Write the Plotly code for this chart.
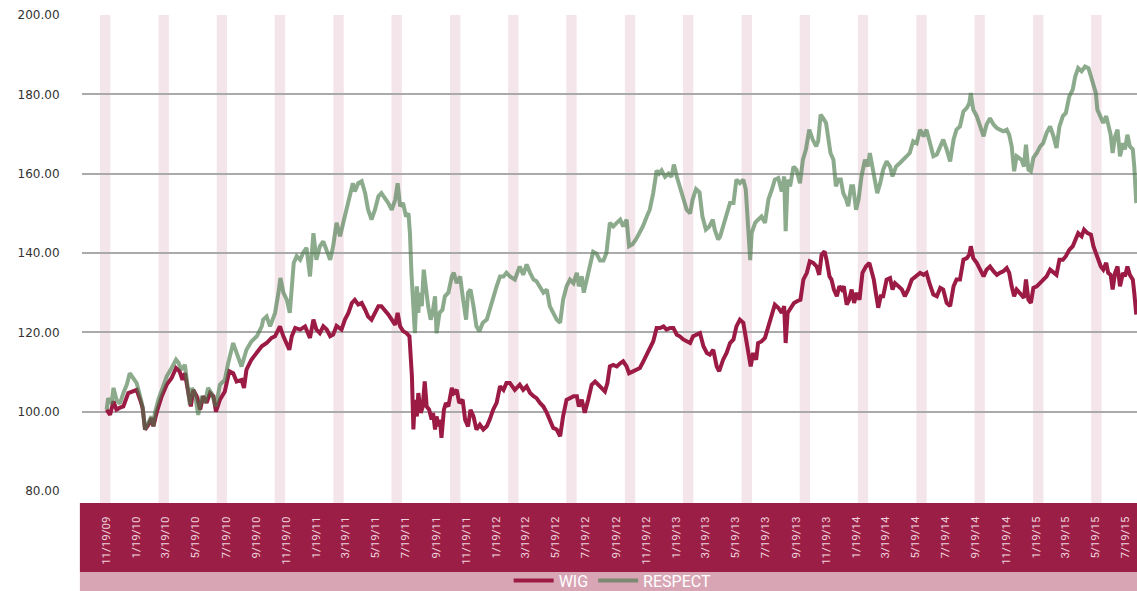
import pandas as pd
import plotly.graph_objects as go

start_date = "2009-11-19"

wig_days = [0, 7, 14, 20, 27, 34, 44, 54, 61, 68, 73, 78, 85, 91, 95, 102, 112, 122, 132, 141, 148, 154, 159, 166, 171, 176, 183, 190, 196, 203, 210, 217, 222, 230, 240, 249, 257, 264, 274, 279, 284, 294, 305, 315, 325, 335, 342, 352, 359, 366, 371, 376, 383, 393, 403,
            413, 420, 426, 433, 440, 447, 454, 460, 467, 477, 484, 491, 498, 504, 511, 518, 525, 531, 538, 545, 552, 558, 565, 572, 579, 586, 591, 596, 602, 609, 615, 617, 620, 623, 626, 630, 633, 638, 642, 646, 650, 655, 660, 663, 667, 670, 674, 677, 680, 685, 689, 694, 701, 705, 711, 716, 723, 728, 734, 739, 745, 751, 758, 765, 772, 778, 785, 792, 799, 806, 812,
            819, 829, 839, 846, 853, 860, 867, 873, 880, 887, 894, 900, 907, 914, 921, 927, 934, 941, 948, 955, 959, 965, 971, 978, 985, 992, 998, 1005, 1012, 1017, 1022, 1029, 1036, 1043, 1049, 1056, 1061, 1068, 1075, 1083, 1090, 1097, 1103, 1110, 1117, 1124, 1131, 1137, 1144, 1151, 1158, 1164, 1171, 1178, 1185, 1191, 1198, 1205, 1212, 1219, 1225, 1232, 1239, 1244,
            1252, 1259, 1266, 1273, 1279, 1286, 1293, 1298, 1303, 1308, 1313, 1319, 1323, 1330, 1337, 1344, 1351, 1357, 1364, 1371, 1376, 1379, 1383, 1389, 1396, 1403, 1409, 1415, 1422, 1428, 1435, 1442, 1447, 1452, 1458, 1462, 1468, 1472, 1477, 1483, 1488, 1493, 1497, 1503, 1508, 1513, 1518, 1523, 1529, 1535, 1542, 1549, 1554, 1558, 1562, 1567, 1572, 1577, 1584, 1591, 1596, 1601, 1608, 1615, 1621, 1628, 1635, 1642, 1648,
            1652, 1659, 1665, 1672, 1679, 1686, 1693, 1699, 1706, 1713, 1720, 1726, 1733, 1740, 1747, 1752, 1755, 1760, 1767, 1774, 1781, 1787, 1794, 1801, 1808, 1814, 1821, 1828, 1833, 1838, 1843, 1848, 1854, 1858, 1863, 1867, 1872, 1877, 1882, 1889, 1896, 1902, 1909, 1916, 1923, 1929, 1935, 1942, 1948, 1955, 1962, 1967, 1973, 1980, 1985, 1992, 1999, 2004, 2010, 2014, 2019, 2024, 2030, 2034, 2039, 2043, 2048, 2053, 2058, 2064, 2068, 2073, 2078, 2084, 2087, 2091]

wig_values = [100.5, 99.2, 102.6, 100.5, 101, 101.3, 104.7, 105.1, 105.5, 103, 101, 95.5, 96.7, 98.4, 96.3, 100, 103.9, 106.8, 108.5, 111, 110.2, 108, 109.7, 104.7, 101.3, 105.5, 103.9, 100.5, 103.9, 102.2, 104.7, 103.9, 100, 103, 105.1, 110.2, 109.7, 107.6, 108, 106, 110.6, 113.1, 114.8, 116.5, 117.3, 118.6, 119, 121.5, 119, 117.3, 115.6, 119, 121.1, 120.7, 121.5,
              118.6, 123.2, 120.7, 119.8, 121.5, 120.7, 119, 119.4, 121.6, 120.7, 123.2, 124.9, 127.4, 128.2, 127, 127.4, 125.7, 124, 123.2, 124.9, 126.6, 126.6, 125.7, 124.5, 123.2, 121.9, 124.9, 121.5, 120.3, 119.8, 119, 114.8, 108.9, 95.5, 103, 98.8, 104.7, 99.7, 101.3, 107.6, 101.3, 100.5, 98, 99.7, 95.5, 98.8, 96.3, 98, 93.4, 100.5, 102.2, 101.3, 106, 104.7, 105.5, 102.2, 103, 98, 96.3, 100.5, 98.8, 95.5, 96.7, 95.5, 96.3, 98, 100.5, 102.2, 106.4, 105.5, 107.2,
              107.2, 105.5, 106.8, 105.5, 106.4, 104.7, 103.9, 103.4, 102.2, 101.3, 99.7, 98, 95.9, 95.5, 93.8, 98.8, 103, 103.4, 103.9, 103.9, 101.3, 103, 99.7, 103, 106.8, 107.6, 106.8, 106, 105.1, 107.2, 111.4, 111.8, 111.4, 112.2, 112.7, 111.4, 109.7, 110.1, 110.6, 111, 112.7, 114.4, 115.6, 117.7, 121.1, 121.1, 121.5, 120.7, 121.1, 121.1, 119.4, 119, 118.2, 117.7, 117.3, 119, 119.4, 119.8, 116.5, 114.8, 114.4, 115.6, 111.4, 110.2,
              113.1, 114.8, 117.3, 118.2, 121.5, 123.2, 122.4, 119, 114.8, 111.4, 114.8, 113.1, 117.3, 117.7, 118.6, 121.5, 124.9, 127, 126.2, 124.9, 126.6, 117.3, 124.9, 126.2, 127.4, 127.9, 128.2, 133.3, 135, 137.9, 137.5, 136.6, 134.5, 139.6, 140.4, 138.3, 134.1, 133.3, 130.8, 129.1, 131.6, 130.8, 131.6, 127, 128.2, 130.8, 127.4, 130, 128.2, 135, 136.6, 137.5, 135, 133.3, 130, 126.2, 129.1, 129.1, 133.3, 133.7, 130.8, 132.4, 131.6, 130.8, 129.1, 130.8, 133.3, 134.1, 134.5,
              135, 134.5, 135, 132, 129.5, 129.1, 131.2, 130.8, 127.4, 126.6, 131.6, 133.3, 133.3, 138.3, 138.7, 139.6, 141.7, 138.7, 137.5, 135.8, 134.1, 135.8, 136.6, 135.4, 134.5, 135, 135.4, 136.2, 135, 131.6, 129.1, 130.8, 129.9, 129.5, 128.7, 133.3, 128.2, 127.4, 131.2, 131.6, 132.4, 133.3, 134.1, 135.8, 135, 134.5, 138.3, 138.3, 139.2, 140.8, 141.7, 143.4, 145, 144.2, 145.9, 145, 144.6, 141.7, 140, 138.3, 136.6, 135.8, 137.5, 135, 134.5, 130.8, 135, 136.6, 131.6, 135, 134.1, 136.6, 134.5, 133.3, 129.9, 124.5]

respect_days = [0, 3, 10, 14, 20, 27, 34, 41, 47, 54, 61, 68, 73, 78, 85, 91, 95, 98, 105, 112, 122, 132, 141, 146, 152, 159, 166, 169, 173, 179, 186, 193, 200, 206, 213, 222, 230, 240, 247, 257, 264, 274, 284, 294, 305, 315, 318, 325, 332, 342, 349, 353, 359, 366, 372, 376, 380, 386, 393, 399, 406,
                413, 420, 426, 433, 440, 447, 454, 460, 467, 474, 481, 487, 494, 500, 504, 511, 518, 525, 531, 538, 545, 552, 558, 565, 572, 579, 586, 591, 596, 602, 608, 613, 616, 619, 623, 626, 630, 633, 636, 640, 644, 649, 653, 658, 662, 667, 670, 676, 682, 687, 694, 701, 705, 711, 718, 724, 730, 734, 739, 745, 751, 757, 764, 772, 778, 785, 792, 799, 806, 812,
                819, 829, 839, 846, 853, 860, 867, 873, 880, 887, 894, 900, 907, 914, 921, 927, 934, 941, 948, 955, 959, 965, 969, 975, 982, 988, 995, 1002, 1009, 1015, 1022, 1029, 1036, 1043, 1049, 1056, 1061, 1068, 1075, 1082, 1089, 1097, 1103, 1110, 1117, 1122, 1127, 1134, 1141, 1147, 1152, 1158, 1164, 1171, 1178, 1185, 1190, 1197, 1204, 1210, 1217, 1224, 1231, 1235, 1242,
                1246, 1252, 1259, 1266, 1273, 1279, 1286, 1293, 1298, 1303, 1307, 1310, 1317, 1323, 1330, 1337, 1344, 1351, 1357, 1364, 1371, 1376, 1379, 1383, 1388, 1395, 1401, 1408, 1414, 1420, 1427, 1434, 1441, 1445, 1450, 1455, 1461, 1466, 1470, 1476, 1481, 1486, 1491, 1496, 1502, 1506, 1512, 1516, 1522, 1527, 1533, 1540, 1546, 1550, 1556, 1560, 1565, 1571, 1577, 1584, 1591, 1596, 1603, 1611, 1618, 1625, 1631, 1638, 1645,
                1652, 1659, 1665, 1672, 1679, 1686, 1693, 1699, 1706, 1713, 1720, 1726, 1733, 1740, 1747, 1752, 1755, 1760, 1767, 1774, 1781, 1787, 1794, 1801, 1808, 1814, 1821, 1828, 1833, 1838, 1843, 1848, 1854, 1858, 1863, 1867, 1872, 1877, 1882, 1889, 1896, 1902, 1909, 1916, 1923, 1929, 1935, 1942, 1948, 1955, 1962, 1967, 1973, 1980, 1987, 1994, 1999, 2004, 2009, 2012, 2018, 2024, 2030, 2034, 2039, 2043, 2048, 2053, 2058, 2064, 2068, 2073, 2078, 2084, 2087, 2091]

respect_values = [100.5, 103.4, 102, 106, 103, 102, 104.7, 106.8, 109.7, 108.5, 107.2, 103.9, 101.3, 95.5, 97.1, 98.8, 96.3, 99.7, 103, 105.5, 108.9, 111, 113.1, 112.3, 110.6, 111.8, 104.7, 101.8, 106, 104.7, 99.2, 103.9, 102.2, 106, 104.7, 101.3, 106.8, 108, 112.3, 117.3, 114.8, 111.4, 115.6, 117.7, 119, 121.5, 123.2, 124, 121.5, 124.9, 130, 133.7, 130, 128.2, 124.9, 131.6, 137.5, 139.2, 138.3, 140, 141.3,
                  134.1, 145, 138.3, 141.7, 142.9, 140.8, 138.3, 141.7, 147.6, 144.2, 147.6, 150.9, 154.3, 157.6, 155.5, 157.6, 158.1, 155.1, 150.9, 148.4, 150.9, 154.3, 155.1, 153.9, 152.6, 150.9, 153.4, 157.6, 151.8, 152.6, 149.2, 150, 145, 135, 123.2, 119.8, 131.6, 124.9, 130, 126.6, 135.8, 130, 126.6, 123.2, 124.9, 129.1, 119.8, 124.9, 125.7, 129.1, 130, 134.1, 135, 132.4, 134.1, 128.2, 123.2, 130, 130.8, 126.6, 121.5, 120.3, 122.4, 123.2, 125.8, 129.1, 131.6, 134.1, 134.1, 135,
                  134.1, 133.3, 136.6, 134.5, 137.1, 135, 133.3, 132.9, 131.6, 130, 130.8, 126.6, 124.9, 123.2, 122.4, 128.2, 131.6, 133.3, 132.4, 135, 131.6, 134.1, 130, 133.3, 136.6, 140.3, 139.8, 138.1, 138.1, 140, 147.6, 146.7, 147.6, 148.4, 146.7, 148.4, 141.7, 142.2, 143.4, 145, 146.7, 149.2, 150.9, 155.1, 160.8, 160, 160.8, 159.2, 160, 159.2, 162.3, 159.2, 156.8, 154.3, 150.9, 150, 153.4, 156.1, 155.3, 149.2, 145.9, 146.7, 148.4, 145.9, 143.4,
                  144.2, 146.7, 150, 152.6, 152.6, 158.5, 157.6, 158.5, 156, 146.7, 138.2, 145, 147.6, 148.4, 149.2, 147.6, 153.5, 156, 158.5, 158.9, 155.5, 159.3, 145.5, 158.5, 156.8, 161.8, 161, 157.6, 163.5, 166, 171.1, 168.6, 166.9, 168.2, 174.9, 174, 172.8, 168.6, 165.2, 163.5, 156.8, 158.5, 158.5, 155.1, 153.5, 151.8, 156.8, 156.8, 150.9, 153.5, 159.3, 163.5, 161.8, 165.2, 161, 157.6, 155.1, 157.6, 161, 163.1, 161.8, 159.3, 161.8, 162.7, 163.5, 164.4, 165.2, 168.2, 167.7,
                  171.1, 169.4, 171.1, 167.7, 164.4, 164.8, 166.9, 168.6, 166.1, 163.1, 168.6, 171.1, 171.9, 175.7, 176.6, 177.8, 180.3, 176.1, 174.5, 171.9, 169.4, 172.4, 174, 172.4, 171.5, 171.1, 170.7, 171.1, 169.8, 166.9, 160.6, 164.4, 164, 163.5, 161.8, 167.3, 161, 160.6, 164, 165.2, 166.9, 167.7, 170.3, 171.9, 169.4, 166.5, 171.9, 174.5, 175.3, 179.5, 181.2, 184.5, 186.6, 185.8, 187, 186.6, 184.5, 182, 180.3, 176.1, 174.5, 172.8, 174.5, 171.9, 169.8, 165.2, 169.4, 171.1, 164.4, 167.7, 166.1, 169.8, 166.9, 166.1, 161.8, 152.6]

band_centers = ["2009-11-16", "2010-03-15", "2010-07-11", "2010-11-06", "2011-03-05", "2011-07-01",
                "2011-10-28", "2012-02-23", "2012-06-20", "2012-10-17", "2013-02-12", "2013-06-11",
                "2013-10-07", "2014-02-02", "2014-06-01", "2014-09-27", "2015-01-24", "2015-05-22"]

x_range = ["2009-09-30", "2015-08-12 12:00"]
y_range = [80, 200]

RED = "#9b1b45"
GREEN = "rgba(73,121,73,0.63)"

base = pd.Timestamp(start_date)
wig_x = base + pd.to_timedelta(wig_days, unit="D")
respect_x = base + pd.to_timedelta(respect_days, unit="D")

fig = go.Figure()
fig.add_trace(go.Scatter(x=wig_x, y=wig_values, mode="lines", name="WIG",
                         line=dict(color=RED, width=4)))
fig.add_trace(go.Scatter(x=respect_x, y=respect_values, mode="lines", name="RESPECT",
                         line=dict(color=GREEN, width=4)))

shapes = []
half = pd.Timedelta(days=10.5)
for c in band_centers:
    t = pd.Timestamp(c)
    shapes.append(dict(type="rect", xref="x", yref="paper", x0=t - half, x1=t + half,
                       y0=-0.025, y1=1, fillcolor="#f4e5eb", line=dict(width=0), layer="below"))
shapes.append(dict(type="rect", xref="paper", yref="paper", x0=-0.002, x1=1, y0=-0.170, y1=-0.025,
                   fillcolor="#9b1e46", line=dict(width=0), layer="below"))
shapes.append(dict(type="rect", xref="paper", yref="paper", x0=-0.002, x1=1, y0=-0.215, y1=-0.170,
                   fillcolor="#d8a5b5", line=dict(width=0), layer="below"))

fig.update_layout(
    width=1137, height=591, autosize=False,
    margin=dict(l=82, r=0, t=15, b=100, autoexpand=False),
    paper_bgcolor="white", plot_bgcolor="white",
    shapes=shapes,
    showlegend=True,
    legend=dict(orientation="h", x=0.503, xanchor="center", y=-0.188, yanchor="middle",
                font=dict(family="Roboto", size=16, color="white"), bgcolor="rgba(0,0,0,0)",
                itemwidth=40),
    xaxis=dict(type="date", range=x_range, tick0="2009-11-19", dtick="M2", tickformat="%-m/%d/%y",
               tickangle=-90, ticks="outside", ticklen=20, tickcolor="rgba(0,0,0,0)",
               tickfont=dict(family="Roboto", size=11.5, color="#eed3dc"),
               showgrid=False, zeroline=False, showline=False),
    yaxis=dict(range=y_range, dtick=20, tickformat=".2f", ticks="outside", ticklen=19,
               tickcolor="rgba(0,0,0,0)", tickfont=dict(family="DejaVu Sans", size=12, color="#333333"),
               showgrid=True, gridcolor="#aaaaaa", gridwidth=1.5, zeroline=False, showline=False),
)

fig.write_html("out.html", config={"displayModeBar": False},
               post_script="document.body.style.margin='0';document.body.style.overflow='hidden';")
